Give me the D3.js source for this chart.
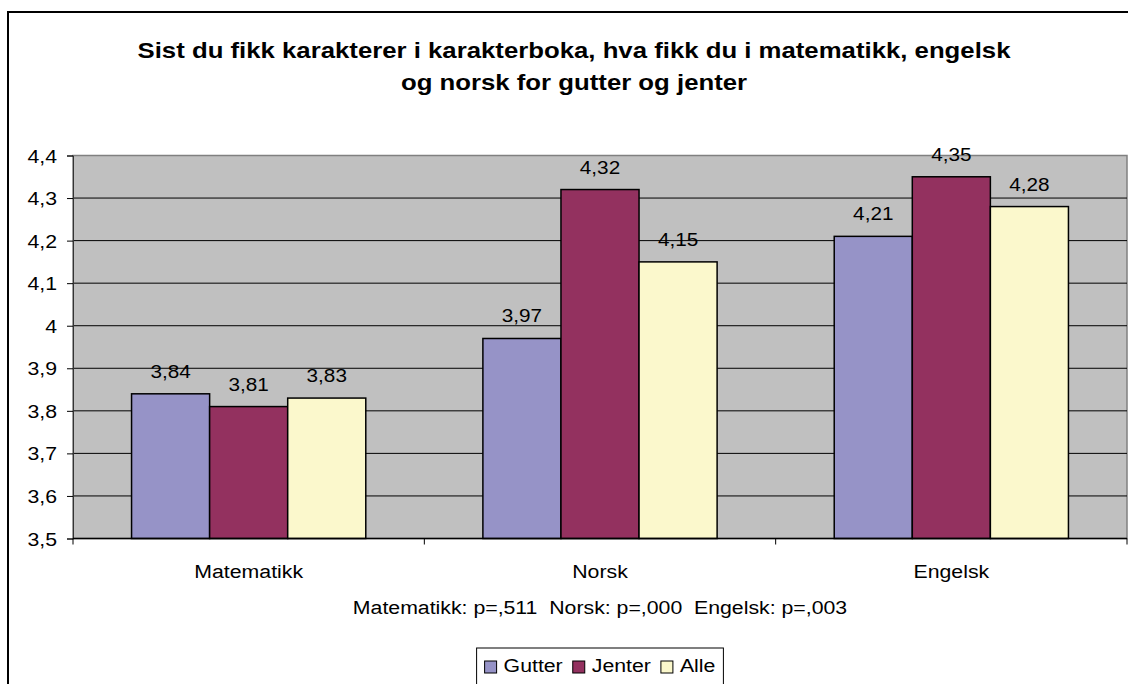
<!DOCTYPE html>
<html>
<head>
<meta charset="utf-8">
<script src="https://cdn.jsdelivr.net/npm/d3@7"></script>
<style>
  body { margin: 0; background: #fff; }
  svg text { font-family: "Liberation Sans", Arial, sans-serif; fill: #000; }
</style>
</head>
<body>
<div class="chart"></div>
<script>
const subjects = ["Matematikk", "Norsk", "Engelsk"];
const series = ["Gutter", "Jenter", "Alle"];
const gutter = [3.84, 3.97, 4.21];
const jenter = [3.81, 4.32, 4.35];
const alle = [3.83, 4.15, 4.28];
const yTicks = [3.5, 3.6, 3.7, 3.8, 3.9, 4.0, 4.1, 4.2, 4.3, 4.4];
const titleLines = ["Sist du fikk karakterer i karakterboka, hva fikk du i matematikk, engelsk",
                    "og norsk for gutter og jenter"];
const pText = "Matematikk: p=,511  Norsk: p=,000  Engelsk: p=,003";
const colors = ["#9693c7", "#93315f", "#fbf8cc"];

const values = [gutter, jenter, alle];
const no = d3.formatLocale({ decimal: ",", thousands: " ", grouping: [3], currency: ["", " kr"] });
const fmtTick = no.format(".1~f");
const fmtVal = no.format(".2f");

const W = 1128, H = 684;
const SX = 1.12; // text in the picture is a bit wider than tall

const svg = d3.select(".chart").append("svg")
    .attr("width", W)
    .attr("height", H);

// outer chart frame (runs off right and bottom)
svg.append("rect")
    .attr("x", 8).attr("y", 12)
    .attr("width", 1160).attr("height", 720)
    .attr("fill", "#fff")
    .attr("stroke", "#000")
    .attr("stroke-width", 2);

function label(x, y, txt, size, anchor, weight) {
    return svg.append("text")
        .attr("transform", `translate(${x},${y}) scale(${SX},1)`)
        .attr("text-anchor", anchor || "middle")
        .attr("font-size", size)
        .attr("font-weight", weight || "normal")
        .text(txt);
}

// title
label(574, 58, titleLines[0], 23, "middle", "bold");
label(574, 90, titleLines[1], 23, "middle", "bold");

const pLeft = 73, pRight = 1127, pTop = 155.5, pBottom = 538.5;

const y = d3.scaleLinear().domain([3.5, 4.4]).range([pBottom, pTop]);
const x0 = d3.scaleBand().domain(subjects).range([pLeft, pRight]);
const gap = x0.bandwidth() * 1.5 / 4.5;
const x1 = d3.scaleBand().domain(series).range([gap / 2, x0.bandwidth() - gap / 2]);

// plot area
svg.append("rect")
    .attr("x", pLeft).attr("y", pTop)
    .attr("width", pRight - pLeft).attr("height", pBottom - pTop)
    .attr("fill", "#c0c0c0")
    .attr("stroke", "#808080")
    .attr("stroke-width", 1.5);

// gridlines
svg.append("g")
    .selectAll("line")
    .data(yTicks.slice(1, -1))
    .join("line")
    .attr("x1", pLeft).attr("x2", pRight)
    .attr("y1", d => y(d)).attr("y2", d => y(d))
    .attr("stroke", "#000")
    .attr("stroke-width", 1);

// y axis
const yAxis = svg.append("g")
    .attr("transform", `translate(${pLeft},0)`)
    .call(d3.axisLeft(y).tickValues(yTicks).tickSize(6).tickFormat(() => ""));
yAxis.selectAll("path, line").attr("stroke", "#000").attr("stroke-width", 1);
yAxis.select(".domain").attr("stroke", "#333");

yTicks.forEach(t => {
    label(57, y(t) + 7, fmtTick(t), 19, "end");
});

// bars
const groups = svg.append("g")
    .selectAll("g")
    .data(subjects)
    .join("g")
    .attr("transform", d => `translate(${x0(d)},0)`);

groups.selectAll("rect")
    .data((d, i) => series.map((s, j) => ({ s, j, v: values[j][i] })))
    .join("rect")
    .attr("x", d => x1(d.s))
    .attr("y", d => y(d.v))
    .attr("width", x1.bandwidth())
    .attr("height", d => pBottom - y(d.v))
    .attr("fill", d => colors[d.j])
    .attr("stroke", "#000")
    .attr("stroke-width", 1.5);

subjects.forEach((sub, i) => {
    series.forEach((s, j) => {
        const v = values[j][i];
        label(x0(sub) + x1(s) + x1.bandwidth() / 2, y(v) - 16, fmtVal(v), 18.5);
    });
});

// x axis
svg.append("line")
    .attr("x1", pLeft).attr("x2", pRight)
    .attr("y1", pBottom).attr("y2", pBottom)
    .attr("stroke", "#000").attr("stroke-width", 1.5);
const xEdges = [pLeft].concat(subjects.map(s => x0(s) + x0.bandwidth()));
svg.append("g")
    .selectAll("line")
    .data(xEdges)
    .join("line")
    .attr("x1", d => d).attr("x2", d => d)
    .attr("y1", pBottom).attr("y2", pBottom + 6)
    .attr("stroke", "#000");

subjects.forEach(s => {
    label(x0(s) + x0.bandwidth() / 2, 578, s, 19);
});

// p-values line
label((pLeft + pRight) / 2, 614, pText, 19).style("white-space", "pre");

// legend
const legend = svg.append("g");
const legendBox = legend.append("rect")
    .attr("y", 648).attr("height", 60)
    .attr("fill", "#fff").attr("stroke", "#000").attr("stroke-width", 1);

let lx = 0;
series.forEach((s, j) => {
    legend.append("rect")
        .attr("x", lx).attr("y", 661)
        .attr("width", 12).attr("height", 12)
        .attr("fill", colors[j]).attr("stroke", "#000").attr("stroke-width", 1);
    const t = legend.append("text")
        .attr("font-size", 19)
        .text(s);
    const tw = t.node().getComputedTextLength() * SX;
    t.attr("transform", `translate(${lx + 19},672) scale(${SX},1)`);
    lx += 19 + tw + 10;
});
const legendW = lx - 10 + 16;
const legendX = (pLeft + pRight) / 2 - legendW / 2;
legend.attr("transform", `translate(${legendX + 8},0)`);
legendBox.attr("x", -8).attr("width", legendW);
</script>
</body>
</html>
